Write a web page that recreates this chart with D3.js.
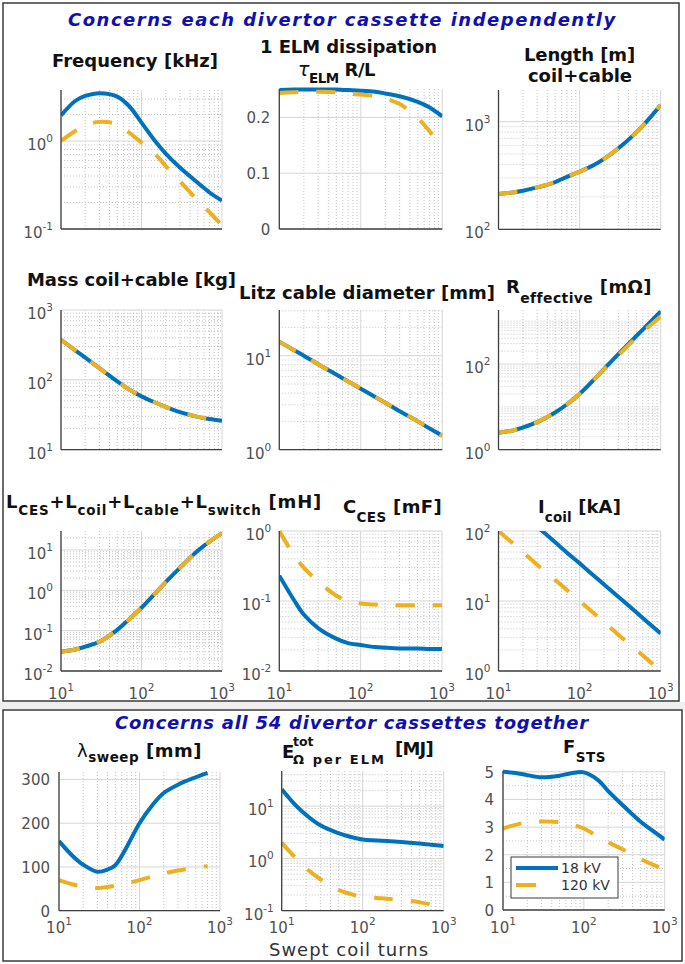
<!DOCTYPE html>
<html><head><meta charset="utf-8">
<script src="https://cdn.jsdelivr.net/npm/d3@7"></script>
<style>
body{margin:0;background:#fff}
svg{display:block}
text{font-family:"DejaVu Sans","Noto Sans",sans-serif}
</style>
</head><body>
<svg id="c" width="685" height="964"></svg>
<script>
// ---------------- data ----------------
const turns = [10, 15, 20, 30, 50, 70, 100, 150, 200, 300, 500, 700, 1000];
const turnsSweep = [10, 15, 20, 30, 40, 50, 70, 100, 150, 200, 300, 500, 700];
const xTicks = [10, 100, 1000];
const seriesNames = ["18 kV", "120 kV"];

const freq18  = [1.95, 2.85, 3.25, 3.5, 3.2, 2.5, 1.62, 0.98, 0.72, 0.5, 0.335, 0.26, 0.21];
const freq120 = [1.0, 1.3, 1.5, 1.65, 1.55, 1.25, 0.96, 0.7, 0.52, 0.35, 0.21, 0.155, 0.11];

const tau18  = [0.249, 0.25, 0.25, 0.25, 0.25, 0.249, 0.248, 0.246, 0.243, 0.238, 0.228, 0.218, 0.202];
const tau120 = [0.244, 0.245, 0.246, 0.246, 0.245, 0.243, 0.241, 0.238, 0.234, 0.224, 0.199, 0.175, 0.145];

const length18  = [213, 220, 228, 245, 275, 307, 343, 395, 451, 564, 796, 1040, 1427];
const length120 = [213, 220, 228, 245, 275, 307, 343, 395, 451, 564, 796, 1040, 1427];

const mass18  = [375, 265, 208, 147, 95, 73, 58, 47, 41, 34.5, 29.5, 27.5, 26];
const mass120 = [375, 265, 208, 147, 95, 73, 58, 47, 41, 34.5, 29.5, 27.5, 26];

const litz18  = [14.1, 11.5, 10, 8.1, 6.3, 5.3, 4.46, 3.64, 3.15, 2.57, 2.0, 1.68, 1.41];
const litz120 = [14.1, 11.5, 10, 8.1, 6.3, 5.3, 4.46, 3.64, 3.15, 2.57, 2.0, 1.68, 1.41];

const reff18  = [2.5, 2.8, 3.3, 4.4, 7.4, 11.5, 20, 43, 76, 170, 450, 850, 1680];
const reff120 = [2.5, 2.8, 3.3, 4.4, 7.4, 11.5, 20, 43, 75, 160, 410, 720, 1300];

const lsum18  = [0.03, 0.034, 0.04, 0.053, 0.105, 0.19, 0.37, 0.86, 1.6, 3.6, 9.5, 16, 26];
const lsum120 = [0.03, 0.034, 0.04, 0.053, 0.105, 0.19, 0.37, 0.86, 1.6, 3.6, 9.5, 16, 26];

const cces18  = [0.23, 0.105, 0.064, 0.041, 0.029, 0.025, 0.0235, 0.022, 0.0215, 0.021, 0.021, 0.0207, 0.0206];
const cces120 = [1.0, 0.46, 0.3, 0.19, 0.12, 0.1, 0.092, 0.089, 0.088, 0.087, 0.087, 0.087, 0.087];

const icoil18  = [345, 230, 172, 115, 69, 49, 34.5, 23, 17.2, 11.5, 6.9, 4.9, 3.45];
const icoil120 = [100, 67, 50, 33, 20, 14.3, 10, 6.7, 5, 3.3, 2, 1.43, 1.0];

const sweep18  = [159, 124, 105, 89, 94, 104, 147, 200, 245, 269, 288, 305, 315];
const sweep120 = [70, 60, 55, 52, 54, 57, 63, 70, 79, 85, 92, 98, 102];

const energy18  = [21, 10.2, 6.8, 4.3, 3.05, 2.6, 2.3, 2.21, 2.15, 2.06, 1.93, 1.83, 1.72];
const energy120 = [2.0, 1.0, 0.65, 0.4, 0.25, 0.21, 0.185, 0.175, 0.17, 0.16, 0.145, 0.13, 0.1];

const fsts18  = [5.0, 4.95, 4.88, 4.8, 4.86, 4.95, 4.98, 4.7, 4.3, 3.8, 3.2, 2.88, 2.55];
const fsts120 = [2.95, 3.1, 3.15, 3.2, 3.18, 3.1, 2.95, 2.65, 2.45, 2.2, 1.85, 1.65, 1.45];

// ---------------- layout ----------------
const BLUE = "#0072BD", ORANGE = "#EDB120";
const panels = [
  {box:[61,222,90,229],        log:true,  dom:[0.1,3.8],   yt:[0.1,1],            x:turns, a:freq18,  b:freq120},
  {box:[279.3,442.3,89,229],   log:false, dom:[0,0.251],   yt:[0,0.1,0.2],        x:turns, a:tau18,   b:tau120, fmt:d3.format(".1~f")},
  {box:[498.5,660.7,90,229.3], log:true,  dom:[100,1968],  yt:[100,1000],         x:turns, a:length18, b:length120},
  {box:[61,222,310,449.7],     log:true,  dom:[10,1000],   yt:[10,100,1000],      x:turns, a:mass18,  b:mass120},
  {box:[279.3,442.3,310,449.7],log:true,  dom:[1,30.6],    yt:[1,10],             x:turns, a:litz18,  b:litz120},
  {box:[498.5,660.7,310,449.7],log:true,  dom:[1,1820],    yt:[1,100],            x:turns, a:reff18,  b:reff120},
  {box:[61,222,531,671],       log:true,  dom:[0.01,29.5], yt:[0.01,0.1,1,10],    x:turns, a:lsum18,  b:lsum120, xl:699},
  {box:[279.3,442,531,671],    log:true,  dom:[0.01,1],    yt:[0.01,0.1,1],       x:turns, a:cces18,  b:cces120, xl:699},
  {box:[498.5,660.7,531,671],  log:true,  dom:[1,100],     yt:[1,10,100],         x:turns, a:icoil18, b:icoil120, xl:699, pad:0},
  {box:[59,220,772,910.7],     log:false, dom:[0,317],     yt:[0,100,200,300],    x:turnsSweep, a:sweep18, b:sweep120, xl:933, fmt:d3.format("d")},
  {box:[281.7,443.7,771,910.7],log:true,  dom:[0.1,47],    yt:[0.1,1,10],         x:turns, a:energy18, b:energy120, xl:933},
  {box:[503,664.7,771,910],    log:false, dom:[0,5.03],    yt:[0,1,2,3,4,5],      x:turns, a:fsts18, b:fsts120, xl:933, fmt:d3.format("d"), minorStep:0.5, legend:true}
];

const svg = d3.select("#c");
svg.append("rect").attr("width",685).attr("height",964).attr("fill","#fff");
svg.append("rect").attr("x",0).attr("y",702).attr("width",685).attr("height",7).attr("fill","#efefef");
svg.append("rect").attr("x",3).attr("y",3).attr("width",676).attr("height",698)
  .attr("fill","none").attr("stroke","#3a3a3a").attr("stroke-width",1.5);
svg.append("rect").attr("x",3).attr("y",710).attr("width",679).attr("height",251)
  .attr("fill","none").attr("stroke","#3a3a3a").attr("stroke-width",1.5);

const defs = svg.append("defs");

panels.forEach((p, i) => {
  const [x0, x1, y0, y1] = p.box;
  const xs = d3.scaleLog().domain([10, 1000]).range([x0, x1]);
  const ys = (p.log ? d3.scaleLog() : d3.scaleLinear()).domain(p.dom).range([y1, y0]);
  const g = svg.append("g");

  // minor x grid
  const xMinor = [];
  [10, 100].forEach(k => { for (let m = 2; m <= 9; m++) xMinor.push(k * m); });
  g.selectAll(null).data(xMinor).join("line")
    .attr("x1", d => xs(d)).attr("x2", d => xs(d)).attr("y1", y0).attr("y2", y1)
    .attr("stroke", "#bdbdbd").attr("stroke-width", 0.9).attr("stroke-dasharray", "1,2");
  // minor y grid
  let yMinor = [];
  if (p.log) {
    const k0 = Math.floor(Math.log10(p.dom[0])), k1 = Math.ceil(Math.log10(p.dom[1]));
    for (let k = k0; k <= k1; k++) for (let m = 2; m <= 9; m++) {
      const v = m * Math.pow(10, k);
      if (v > p.dom[0] * 1.0001 && v < p.dom[1] * 0.9999) yMinor.push(v);
    }
    for (let k = k0; k <= k1; k++) {
      const v = Math.pow(10, k);
      if (v > p.dom[0] && v < p.dom[1] && !p.yt.some(t => Math.abs(t - v) / v < 1e-6)) yMinor.push(v);
    }
  } else if (p.minorStep) {
    for (let v = p.dom[0] + p.minorStep; v < p.dom[1]; v += p.minorStep) {
      if (!p.yt.some(t => Math.abs(t - v) < 1e-6)) yMinor.push(v);
    }
  }
  g.selectAll(null).data(yMinor).join("line")
    .attr("x1", x0).attr("x2", x1).attr("y1", d => ys(d)).attr("y2", d => ys(d))
    .attr("stroke", "#bdbdbd").attr("stroke-width", 0.9).attr("stroke-dasharray", "1,2");
  // major grid
  g.selectAll(null).data(xTicks).join("line")
    .attr("x1", d => xs(d)).attr("x2", d => xs(d)).attr("y1", y0).attr("y2", y1)
    .attr("stroke", "#d6d6d6").attr("stroke-width", 1);
  g.selectAll(null).data(p.yt).join("line")
    .attr("x1", x0).attr("x2", x1).attr("y1", d => ys(d)).attr("y2", d => ys(d))
    .attr("stroke", "#d6d6d6").attr("stroke-width", 1);

  // curves
  const pad = p.pad === undefined ? 3 : p.pad;
  const cid = "clip" + i;
  defs.append("clipPath").attr("id", cid).append("rect")
    .attr("x", x0).attr("y", y0 - pad).attr("width", x1 - x0).attr("height", y1 - y0 + 2 * pad);
  const line = d3.line().x(d => xs(d[0])).y(d => ys(d[1])).curve(d3.curveCatmullRom.alpha(0.5));
  const cg = g.append("g").attr("clip-path", `url(#${cid})`);
  cg.append("path").attr("d", line(p.x.map((n, j) => [n, p.a[j]])))
    .attr("fill", "none").attr("stroke", BLUE).attr("stroke-width", 4);
  cg.append("path").attr("d", line(p.x.map((n, j) => [n, p.b[j]])))
    .attr("fill", "none").attr("stroke", ORANGE).attr("stroke-width", 4)
    .attr("stroke-dasharray", "19,18");

  // axes lines
  g.append("line").attr("x1", x0).attr("x2", x0).attr("y1", y0).attr("y2", y1)
    .attr("stroke", "#404040").attr("stroke-width", 1.3);
  g.append("line").attr("x1", x0).attr("x2", x1).attr("y1", y1).attr("y2", y1)
    .attr("stroke", "#404040").attr("stroke-width", 1.3);

  // y tick labels
  p.yt.forEach(v => {
    const yy = ys(v);
    if (p.log) {
      const t = g.append("text").attr("x", x0 - 8).attr("y", yy + 9).attr("text-anchor", "end")
        .attr("font-size", 15).attr("fill", "#505050");
      t.append("tspan").text("10");
      t.append("tspan").attr("dy", -8).attr("font-size", 10.5).text(String(Math.round(Math.log10(v))));
    } else {
      g.append("text").attr("x", x0 - 9).attr("y", yy + 6).attr("text-anchor", "end")
        .attr("font-size", 15).attr("fill", "#505050").text(p.fmt(v));
    }
  });
  // x tick labels
  if (p.xl) {
    xTicks.forEach(v => {
      const t = g.append("text").attr("x", xs(v)).attr("y", p.xl).attr("text-anchor", "middle")
        .attr("font-size", 15).attr("fill", "#505050");
      t.append("tspan").text("10");
      t.append("tspan").attr("dy", -8).attr("font-size", 10.5).text(String(Math.round(Math.log10(v))));
    });
  }

  // legend
  if (p.legend) {
    const lg = svg.append("g");
    lg.append("rect").attr("x", 511).attr("y", 857).attr("width", 107).attr("height", 41)
      .attr("fill", "#fff").attr("stroke", "#3a3a3a").attr("stroke-width", 1);
    lg.append("line").attr("x1", 516).attr("x2", 558).attr("y1", 868).attr("y2", 868)
      .attr("stroke", BLUE).attr("stroke-width", 4);
    lg.append("line").attr("x1", 516).attr("x2", 536).attr("y1", 885).attr("y2", 885)
      .attr("stroke", ORANGE).attr("stroke-width", 4);
    lg.append("text").attr("x", 561).attr("y", 873).attr("font-size", 14).attr("fill", "#333").text(seriesNames[0]);
    lg.append("text").attr("x", 561).attr("y", 890).attr("font-size", 14).attr("fill", "#333").text(seriesNames[1]);
  }
});

// ---------------- titles ----------------
function rich(x, y, parts, opt) {
  opt = opt || {};
  const size = opt.size || 18, sub = opt.sub || 7, subSize = opt.subSize || 13.5;
  const t = svg.append("text").attr("x", x).attr("y", y).attr("font-size", size)
    .attr("font-weight", opt.weight || "bold").attr("fill", opt.fill || "#111")
    .style("white-space", "pre");
  if (opt.italic) t.attr("font-style", "italic");
  let cur = 0;
  parts.forEach(p => {
    const off = p.sub ? sub : p.sup ? -sub : 0;
    const ts = t.append("tspan").text(p.t);
    if (off !== cur) ts.attr("dy", off - cur);
    if (p.sub || p.sup) ts.attr("font-size", subSize);
    if (p.thin) ts.attr("font-weight", "normal");
    if (p.it) ts.attr("font-style", "italic");
    if (p.size) ts.attr("font-size", p.size);
    cur = off;
  });
  if (opt.w) {
    const bw = t.node().getBBox().width;
    const n = t.text().length;
    const ls = (opt.w - bw) / n;
    t.attr("letter-spacing", Math.max(-1.5, Math.min(3, ls)));
  }
  return t;
}

rich(68, 26, [{t:"Concerns each divertor cassette independently"}], {size:18, italic:true, fill:"#1010b0", w:550});
rich(115, 729, [{t:"Concerns all 54 divertor cassettes together"}], {size:18, italic:true, fill:"#1010b0", w:475});

rich(52, 67, [{t:"Frequency [kHz]"}], {w:166});
rich(260, 53, [{t:"1 ELM dissipation"}], {w:177});
rich(298, 76, [{t:"τ", thin:true, it:true, size:19}, {t:"ELM", sub:true}, {t:" R/L"}], {w:77, sub:7});
rich(524, 61, [{t:"Length [m]"}], {w:111});
rich(528, 82, [{t:"coil+cable"}], {w:104});

rich(27, 286, [{t:"Mass coil+cable [kg]"}], {w:209});
rich(239, 299, [{t:"Litz cable diameter [mm]"}], {w:256});
rich(506, 293, [{t:"R"}, {t:"effective", sub:true}, {t:" [mΩ]"}], {w:145, sub:10, subSize:14});

rich(6, 508, [{t:"L"}, {t:"CES", sub:true}, {t:"+L"}, {t:"coil", sub:true}, {t:"+L"}, {t:"cable", sub:true},
              {t:"+L"}, {t:"switch", sub:true}, {t:" [mH]"}], {w:316, sub:7});
rich(343, 513, [{t:"C"}, {t:"CES", sub:true}, {t:" [mF]"}], {w:99, sub:8.5});
rich(538, 513, [{t:"I"}, {t:"coil", sub:true}, {t:" [kA]"}], {w:83, sub:8.5});

rich(77, 757, [{t:"λ", thin:true}, {t:"sweep", sub:true}, {t:" [mm]"}], {w:125, sub:5});
rich(282, 758, [{t:"E"}], {});
rich(293, 746, [{t:"tot"}], {size:12.5});
rich(293, 764, [{t:"Ω per ELM"}], {size:13, w:93});
rich(395, 755, [{t:"[MJ]"}], {w:38});
rich(563, 753, [{t:"F"}, {t:"STS", sub:true}], {w:43, sub:8.5});

rich(269, 956, [{t:"Swept coil turns"}], {size:18, weight:"normal", fill:"#333", w:160});
</script>
</body></html>
